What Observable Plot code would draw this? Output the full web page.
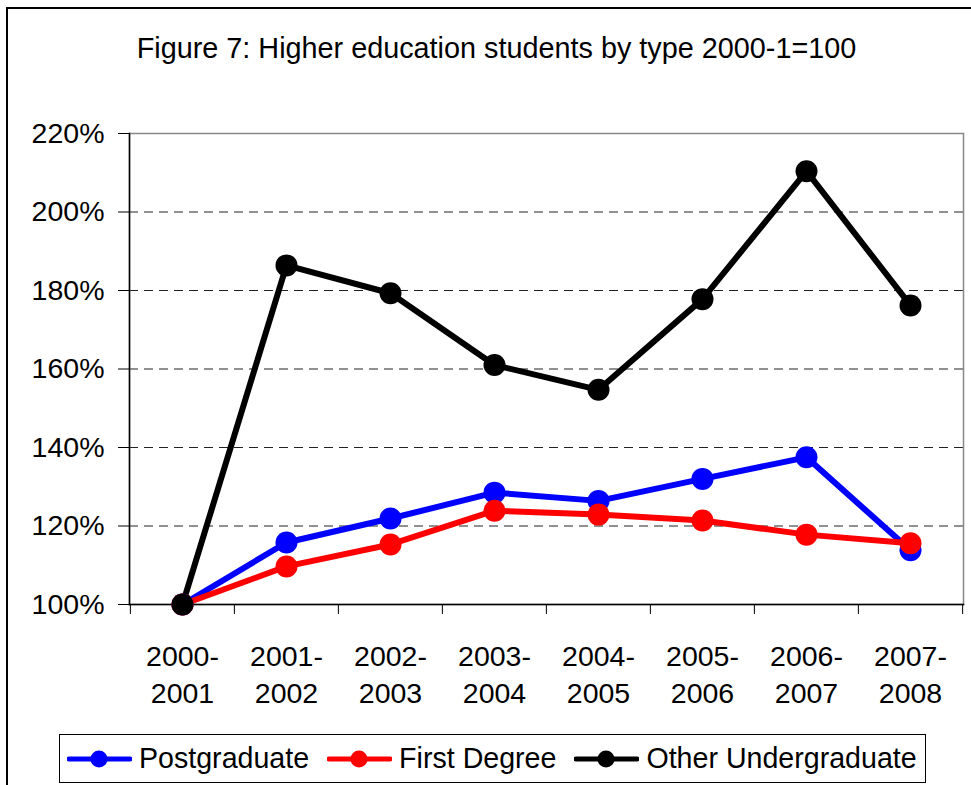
<!DOCTYPE html>
<html>
<head>
<meta charset="utf-8">
<script src="https://cdn.jsdelivr.net/npm/d3@7"></script>
<script src="https://cdn.jsdelivr.net/npm/@observablehq/plot@0.6"></script>
<style>
  body { margin: 0; background: #fff; }
  #wrap { position: relative; width: 971px; height: 785px; overflow: hidden; font-family: "Liberation Sans", Arial, sans-serif; background: #fff; }
  #border { position: absolute; left: 6px; top: 7px; width: 2000px; height: 2000px; border-left: 2px solid #000; border-top: 2px solid #000; }
  #title { position: absolute; left: 0; top: 34px; width: 993px; text-align: center; font-size: 28.8px; line-height: 28.8px; white-space: nowrap; color: #000; }
  #chart { position: absolute; left: 0; top: 0; }
  #legend { position: absolute; left: 59px; top: 734px; width: 867px; height: 49px; box-sizing: border-box; border: 1px solid #000; display: flex; align-items: center; padding-left: 7px; font-size: 28.6px; color: #000; background: #fff; }
  .item { display: flex; align-items: center; margin-right: 18px; white-space: nowrap; }
  .item svg { margin-right: 7px; }
</style>
</head>
<body>
<div id="wrap">
  <div id="border"></div>
  <div id="chart"></div>
  <div id="title"></div>
  <div id="legend"></div>
</div>
<script>
const titleText = "Figure 7: Higher education students by type 2000-1=100";
const years = ["2000-2001", "2001-2002", "2002-2003", "2003-2004", "2004-2005", "2005-2006", "2006-2007", "2007-2008"];
const seriesNames = ["Postgraduate", "First Degree", "Other Undergraduate"];
const seriesColors = ["#0000FF", "#FF0000", "#000000"];
const postgraduate = [100, 115.8, 121.9, 128.5, 126.4, 132.0, 137.5, 113.8];
const firstDegree = [100, 109.7, 115.3, 123.9, 122.9, 121.4, 117.8, 115.6];
const otherUndergraduate = [100, 186.4, 179.3, 161.0, 154.7, 177.8, 210.4, 176.2];
const yTicks = [100, 120, 140, 160, 180, 200, 220];
const gridValues = [120, 140, 160, 180, 200];

const seriesValues = [postgraduate, firstDegree, otherUndergraduate];
const table = [];
seriesNames.forEach((s, i) => {
  years.forEach((y, j) => table.push({series: s, year: y, value: seriesValues[i][j]}));
});

document.getElementById("title").textContent = titleText;

const W = 971, H = 720, mL = 129, mR = 8, mT = 133, mB = 116;
const bw = (W - mL - mR) / years.length;
const font = "'Liberation Sans', Arial, sans-serif";

const chart = Plot.plot({
  width: W,
  height: H,
  marginLeft: mL,
  marginRight: mR,
  marginTop: mT,
  marginBottom: mB,
  style: {background: "transparent", fontFamily: font, fontSize: "28.5px", color: "#000", overflow: "visible"},
  x: {type: "band", domain: years, padding: 0, label: null},
  y: {domain: [100, 220], label: null},
  color: {domain: seriesNames, range: seriesColors},
  marks: [
    Plot.ruleY(gridValues, {stroke: "#222", strokeWidth: 1, strokeDasharray: "9,6"}),
    Plot.frame({stroke: "#888", strokeWidth: 1.5}),
    Plot.frame({anchor: "left", stroke: "#000", strokeWidth: 1.5}),
    Plot.frame({anchor: "bottom", stroke: "#000", strokeWidth: 1.5}),
    Plot.axisY({ticks: yTicks, tickFormat: d => d + "%", tickSize: 11, tickPadding: 14, fontSize: 28.5, stroke: "#000", fill: "#000", label: null}),
    Plot.axisX({tickSize: 0, tickPadding: 35, tickFormat: d => d.replace("-", "-\n"), lineHeight: 1.3, fontSize: 28.5, fill: "#000", label: null}),
    Plot.axisX({tickSize: 10, tickPadding: 0, tickFormat: () => "", dx: -bw / 2, stroke: "#000", label: null}),
    Plot.axisX({ticks: [years[years.length - 1]], tickSize: 10, tickPadding: 0, tickFormat: () => "", dx: bw / 2, stroke: "#000", label: null}),
    Plot.line(table, {x: "year", y: "value", z: "series", stroke: "series", strokeWidth: 6, strokeLinejoin: "round"}),
    Plot.dot(table, {x: "year", y: "value", fill: "series", r: 11})
  ]
});
document.getElementById("chart").appendChild(chart);

const legend = d3.select("#legend");
seriesNames.forEach((s, i) => {
  const it = legend.append("div").attr("class", "item");
  const sv = it.append("svg").attr("width", 65).attr("height", 20);
  sv.append("line").attr("x1", 2).attr("x2", 63).attr("y1", 10).attr("y2", 10)
    .attr("stroke", seriesColors[i]).attr("stroke-width", 5).attr("stroke-linecap", "round");
  sv.append("circle").attr("cx", 32).attr("cy", 10).attr("r", 8.5).attr("fill", seriesColors[i]);
  it.append("span").text(s);
});
</script>
</body>
</html>
